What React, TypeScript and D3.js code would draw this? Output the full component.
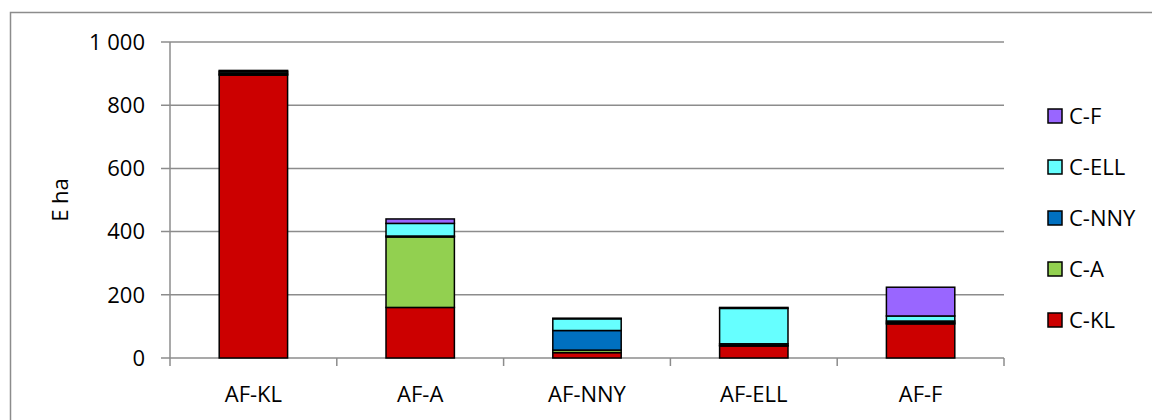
import React from "react";
import * as d3 from "d3";

const categories = ["AF-KL", "AF-A", "AF-NNY", "AF-ELL", "AF-F"];
const seriesNames = ["C-KL", "C-A", "C-NNY", "C-ELL", "C-F"];
const seriesColors = ["#CC0000", "#92D050", "#0070C0", "#66FFFF", "#9966FF"];
const valuesCKL = [895, 160, 17, 38, 108];
const valuesCA = [3, 223, 8, 2, 4];
const valuesCNNY = [4, 3, 62, 5, 5];
const valuesCELL = [5, 40, 37, 112, 16];
const valuesCF = [3, 14, 2, 3, 91];
const yTicks = [0, 200, 400, 600, 800, 1000];
const yLabel = "E ha";

const seriesValues = [valuesCKL, valuesCA, valuesCNNY, valuesCELL, valuesCF];

export default function App() {
  const W = 1152;
  const H = 420;
  const left = 170;
  const right = 1004;
  const top = 42;
  const bottom = 358;
  const font = "'Open Sans', sans-serif";
  const fs = 22;
  const grid = "#8c8c8c";

  const rows = categories.map((c, i) => {
    const r: any = { cat: c };
    seriesNames.forEach((s, j) => (r[s] = seriesValues[j][i]));
    return r;
  });
  const stacked = d3.stack<any>().keys(seriesNames)(rows);

  const x = d3
    .scaleBand<string>()
    .domain(categories)
    .range([left, right])
    .paddingInner(0.59)
    .paddingOuter(0.295);
  const step = x.step();
  const y = d3.scaleLinear().domain([0, 1000]).range([bottom, top]);
  const fmt = (v: number) => d3.format(",")(v).replace(/,/g, " ");

  return (
    <svg
      width={W}
      height={H}
      style={{ position: "absolute", left: 0, top: 0, background: "#fff" }}
    >
      <rect x={10.5} y={12.5} width={1160} height={430} fill="#fff" stroke={grid} strokeWidth={1.5} />
      {yTicks.map((t) => (
        <g key={t}>
          <line x1={161} x2={right} y1={y(t)} y2={y(t)} stroke={grid} strokeWidth={1.5} />
          <text
            x={145}
            y={y(t)}
            dy="0.35em"
            textAnchor="end"
            fontFamily={font}
            fontSize={fs}
            fill="#000"
          >
            {fmt(t)}
          </text>
        </g>
      ))}
      <line x1={left} x2={left} y1={top} y2={bottom} stroke={grid} strokeWidth={1.5} />
      {d3.range(categories.length + 1).map((i) => (
        <line
          key={i}
          x1={left + i * step}
          x2={left + i * step}
          y1={bottom}
          y2={bottom + 8}
          stroke={grid}
          strokeWidth={1.5}
        />
      ))}
      {stacked.map((layer, j) => (
        <g key={layer.key}>
          {layer.map((d, i) => (
            <rect
              key={i}
              x={x(categories[i])!}
              y={y(d[1])}
              width={x.bandwidth()}
              height={Math.max(0, y(d[0]) - y(d[1]))}
              fill={seriesColors[j]}
              stroke="#000"
              strokeWidth={1.5}
            />
          ))}
        </g>
      ))}
      {categories.map((c) => (
        <text
          key={c}
          x={x(c)! + x.bandwidth() / 2}
          y={402}
          textAnchor="middle"
          fontFamily={font}
          fontSize={fs}
          fill="#000"
        >
          {c}
        </text>
      ))}
      <text
        transform={`translate(68,${(top + bottom) / 2}) rotate(-90)`}
        textAnchor="middle"
        fontFamily={font}
        fontSize={fs}
        fill="#000"
      >
        {yLabel}
      </text>
      {seriesNames
        .slice()
        .reverse()
        .map((s, k) => {
          const idx = seriesNames.length - 1 - k;
          const cy = 116 + k * 51;
          return (
            <g key={s}>
              <rect
                x={1048}
                y={cy - 7}
                width={14}
                height={14}
                fill={seriesColors[idx]}
                stroke="#000"
                strokeWidth={1.5}
              />
              <text x={1069} y={cy} dy="0.35em" fontFamily={font} fontSize={fs} fill="#000">
                {s}
              </text>
            </g>
          );
        })}
    </svg>
  );
}
